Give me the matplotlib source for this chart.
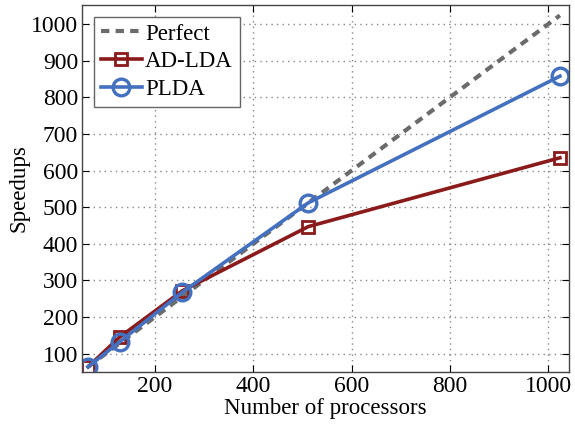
import matplotlib.pyplot as plt

processors = [64, 128, 256, 512, 1024]
perfect = [64, 128, 256, 512, 1024]
ad_lda = [64, 145, 272, 447, 635]
plda = [64, 132, 268, 512, 858]

plt.rcParams['font.family'] = ['Liberation Serif', 'DejaVu Serif']

fig = plt.figure(figsize=(5.75, 4.28), dpi=100)
ax = fig.add_axes([0.143, 0.131, 0.847, 0.857])

ax.plot(processors, perfect, '--', color='#6b6b6b', lw=3.0, label='Perfect', dashes=(2.0, 1.5))
ax.plot(processors, ad_lda, '-s', color='#8b1a1a', lw=2.6, ms=9, mew=2.0,
        mfc='none', label='AD-LDA')
ax.plot(processors, plda, '-o', color='#4470c0', lw=2.6, ms=12, mew=2.4,
        mfc='none', label='PLDA')

ax.set_xlim(52, 1043)
ax.set_ylim(50, 1052)
ax.set_xticks([200, 400, 600, 800, 1000])
ax.set_yticks(range(100, 1001, 100))
ax.grid(True, linestyle=(0, (1, 3)), color='#888888', lw=1.0)
ax.tick_params(direction='in', top=True, right=True, labelsize=17, length=5, pad=3)
for s in ax.spines.values():
    s.set_color('#444444')
    s.set_linewidth(1.0)

ax.set_xlabel('Number of processors', fontsize=16.5, labelpad=1)
ax.set_ylabel('Speedups', fontsize=16.5, labelpad=1)

leg = ax.legend(loc='upper left', fontsize=16.5, fancybox=False, framealpha=1,
                edgecolor='#666666', handlelength=1.8, handletextpad=0.15,
                borderpad=0.3, labelspacing=0.3, borderaxespad=0.5)
leg.get_frame().set_linewidth(1.0)

fig.savefig('out.png', dpi=100)
